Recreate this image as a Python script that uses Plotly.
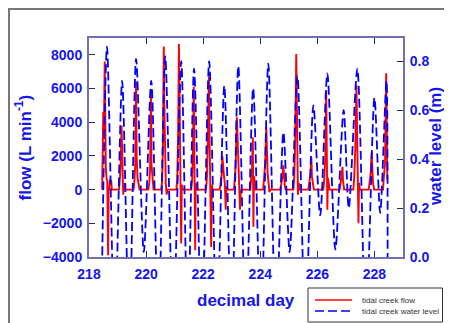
import plotly.graph_objects as go

# ---- data ----
wl_day = [218.45, 218.63, 218.90, 219.16, 219.41, 219.65, 219.92, 220.18, 220.43, 220.67,
          220.95, 221.23, 221.46, 221.68, 221.95, 222.21, 222.48, 222.74, 222.99, 223.23,
          223.49, 223.75, 224.02, 224.28, 224.55, 224.81, 225.03, 225.30, 225.58, 225.86,
          226.10, 226.35, 226.63, 226.92, 227.10, 227.40, 227.70, 228.00, 228.20, 228.42, 228.46]
wl_level = [-0.10, 0.86, -0.30, 0.72, -0.30, 0.81, 0.02, 0.72, -0.30, 0.82,
            -0.30, 0.80, -0.30, 0.77, -0.30, 0.80, -0.30, 0.70, -0.30, 0.78,
            -0.30, 0.69, -0.30, 0.79, -0.30, 0.51, 0.02, 0.74, -0.30, 0.62,
            0.17, 0.75, 0.03, 0.60, 0.20, 0.77, -0.30, 0.65, 0.18, 0.72, -0.20]

flow_day = [218.46, 218.48, 218.50, 218.52, 218.55, 218.57, 218.59, 218.62, 218.64, 218.67, 218.69, 218.71,
            218.73, 218.78, 218.80,
            219.05, 219.08, 219.11, 219.14, 219.16, 219.18, 219.20, 219.22, 219.26,
            219.56, 219.59, 219.62, 219.65, 219.67, 219.70, 219.74, 219.77,
            220.08, 220.11, 220.14, 220.17, 220.19, 220.22, 220.26,
            220.53, 220.56, 220.59, 220.62, 220.64, 220.66, 220.69, 220.72, 220.75,
            221.06, 221.09, 221.12, 221.15, 221.17, 221.19, 221.21, 221.23, 221.25, 221.28,
            221.58, 221.61, 221.64, 221.67, 221.69, 221.72, 221.74, 221.77,
            222.10, 222.13, 222.16, 222.20, 222.22, 222.25, 222.28, 222.30, 222.33,
            222.58, 222.62, 222.65, 222.67, 222.70, 222.73, 222.76, 222.79, 222.81, 222.84,
            223.08, 223.11, 223.14, 223.18, 223.20, 223.23, 223.26, 223.29, 223.31, 223.34,
            223.65, 223.68, 223.71, 223.74, 223.76, 223.78, 223.81, 223.84,
            224.10, 224.13, 224.17, 224.21, 224.23, 224.26, 224.29, 224.32, 224.35,
            224.70, 224.73, 224.77, 224.81, 224.83, 224.86, 224.89,
            225.16, 225.19, 225.22, 225.26, 225.28, 225.30, 225.32, 225.35, 225.38,
            225.68, 225.72, 225.76, 225.79, 225.81, 225.85, 225.88,
            226.21, 226.24, 226.28, 226.31, 226.33, 226.35, 226.37, 226.40, 226.43,
            226.78, 226.82, 226.85, 226.88, 226.90, 226.94,
            227.26, 227.29, 227.33, 227.37, 227.39, 227.41, 227.44, 227.46, 227.49,
            227.80, 227.84, 227.87, 227.90, 227.92, 227.95, 227.99,
            228.30, 228.33, 228.37, 228.41, 228.43, 228.45]
flow_val = [0, 2500, 4600, 3000, 7600, 4500, 1200, 600, 500, -3900, 200, 0,
            600, 500, 0,
            0, 600, 1500, 3800, 2500, 800, -300, 400, 0,
            0, 500, 1500, 6400, 2000, 700, 300, 0,
            0, 400, 1200, 5800, 1500, 600, 0,
            0, 500, 2500, 8500, 5000, 1500, 400, -300, 0,
            0, 600, 3000, 8650, 6000, 2000, 600, -3200, 300, 0,
            0, 500, 2000, 6100, 2500, -3600, 400, 0,
            0, 700, 2500, 6700, 3500, 1000, -3400, 300, 0,
            0, 400, 900, 2000, 1200, 800, 300, -1200, 200, 0,
            0, 700, 1500, 4300, 3000, 1200, 600, -1200, -300, 0,
            0, 500, 1200, 3100, -2200, 800, 300, 0,
            0, 600, 1500, 3700, 2000, 900, 400, -150, 0,
            0, 300, 700, 1450, 600, 200, 0,
            0, 800, 2500, 8050, 4000, 1200, -300, 400, 0,
            0, 400, 900, 1900, 800, 300, 0,
            0, 600, 2000, 5900, 2500, -1200, 700, 300, 0,
            0, 400, 800, 1350, 500, 0,
            0, 700, 2500, 6200, 3000, 1000, -2000, 400, 0,
            0, 500, 1000, 2200, 900, 400, 0,
            0, 800, 1500, 6900, 2500, 600]

x_ticks = [218, 220, 222, 224, 226, 228]
y_ticks = [-4000, -2000, 0, 2000, 4000, 6000, 8000]
y2_ticks = [0.0, 0.2, 0.4, 0.6, 0.8]

flow_name = "tidal creek flow"
level_name = "tidal creek water level"

BLUE = "#1616ee"
AXIS = "#7070b4"
TICK = "#2a2a5a"
FONT = "Liberation Sans, Arial, sans-serif"

# figure size (page adds an 8px body margin) and plot area in figure pixels
FW, FH = 436, 315
L, T, W, H = 81, 30, 314, 219


def px(fx):
    return (fx - L) / W


def py(fy):
    return (T + H - fy) / H


fig = go.Figure()
fig.add_trace(go.Scatter(
    x=wl_day, y=wl_level, yaxis="y2", mode="lines", name=level_name, showlegend=False,
    line=dict(color="#0000ff", width=1.8, dash="9px,4px", shape="spline", smoothing=0.8),
))
fig.add_trace(go.Scatter(
    x=flow_day, y=flow_val, mode="lines", name=flow_name, showlegend=False,
    line=dict(color="#ff0000", width=1.9),
))

tickfont = dict(family=FONT, size=14, color=BLUE, weight="bold")
titlefont = dict(family=FONT, size=17, color=BLUE, weight="bold")
legfont = dict(family=FONT, size=8, color="#333333")

fig.update_layout(
    width=FW, height=FH,
    margin=dict(l=L, r=FW - L - W, t=T, b=FH - T - H, autoexpand=False),
    paper_bgcolor="white", plot_bgcolor="white",
    showlegend=False,
    xaxis=dict(
        range=[218, 229], tickvals=x_ticks, ticks="inside", ticklen=6, tickcolor=TICK,
        showline=True, linecolor=AXIS, linewidth=2, mirror="ticks", automargin=False,
        showgrid=False, zeroline=False, tickfont=tickfont, ticklabelstandoff=3,
    ),
    yaxis=dict(
        range=[-4000, 9000], tickvals=y_ticks, ticks="inside", ticklen=6, tickcolor=TICK,
        showline=True, linecolor=AXIS, linewidth=2, automargin=False,
        showgrid=False, zeroline=False, tickfont=tickfont, ticklabelstandoff=2,
    ),
    yaxis2=dict(
        range=[0, 0.895], tickvals=y2_ticks, tickformat=".1f", ticks="inside", ticklen=6,
        tickcolor=TICK, overlaying="y", side="right", automargin=False,
        showline=True, linecolor=AXIS, linewidth=2,
        showgrid=False, zeroline=False, tickfont=tickfont, ticklabelstandoff=2,
    ),
    annotations=[
        dict(text="decimal day", xref="paper", yref="paper", x=0.5, y=py(292),
             xanchor="center", yanchor="middle", showarrow=False, font=titlefont),
        dict(text="flow (L min<sup>-1</sup>)", xref="paper", yref="paper", x=px(15), y=0.5,
             xanchor="center", yanchor="middle", textangle=-90, showarrow=False, font=titlefont),
        dict(text="water level (m)", xref="paper", yref="paper", x=px(427), y=py(139),
             xanchor="center", yanchor="middle", textangle=-90, showarrow=False, font=titlefont),
        dict(text=flow_name, xref="paper", yref="paper", x=px(352), y=py(292),
             xanchor="left", yanchor="middle", showarrow=False, font=legfont),
        dict(text=level_name, xref="paper", yref="paper", x=px(352), y=py(303),
             xanchor="left", yanchor="middle", showarrow=False, font=legfont),
    ],
    shapes=[
        # outer frame of the figure
        dict(type="line", xref="paper", yref="paper", x0=px(1), x1=px(1), y0=py(0), y1=py(330),
             line=dict(color="#777777", width=2)),
        dict(type="line", xref="paper", yref="paper", x0=px(0), x1=px(440), y0=py(1), y1=py(1),
             line=dict(color="#777777", width=2)),
        # legend box and samples
        dict(type="rect", xref="paper", yref="paper", x0=px(300), x1=px(434.5), y0=py(280), y1=py(314),
             line=dict(color="#333333", width=1), fillcolor="white", layer="above"),
        dict(type="line", xref="paper", yref="paper", x0=px(307), x1=px(344), y0=py(292), y1=py(292),
             line=dict(color="#ff0000", width=1.5)),
        dict(type="line", xref="paper", yref="paper", x0=px(307), x1=px(344), y0=py(303), y1=py(303),
             line=dict(color="#0000ff", width=1.5, dash="9px,4px")),
    ],
)

fig.write_html("out.html")
